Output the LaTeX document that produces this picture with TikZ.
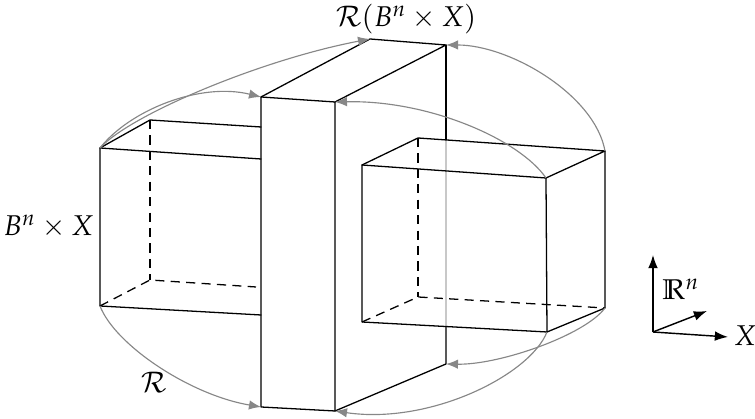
\documentclass[tikz,border=0pt]{standalone}
\usepackage{mathpazo}
\usetikzlibrary{arrows.meta}
\definecolor{mapgray}{RGB}{135,135,135}
\definecolor{lightline}{RGB}{200,200,200}
\begin{document}
\begin{tikzpicture}[x=0.35pt,y=-0.35pt,
  edge/.style={line width=0.45pt, line join=round, line cap=round},
  hid/.style={line width=0.45pt, dash pattern=on 3.2pt off 2.2pt},
  map/.style={draw=mapgray, line width=0.4pt, -{Latex[length=4.2pt,width=3.3pt]}},
  axis/.style={line width=0.5pt, -{Latex[length=4.6pt,width=3.4pt]}},
  lab/.style={anchor=base, inner sep=0pt}]
\useasboundingbox (0,0) rectangle (755,419);
% left box
\coordinate (L1) at (100,148);
\coordinate (L2) at (100,306);
\coordinate (L3) at (150,120);
\coordinate (L4) at (150,280);
\coordinate (L5) at (261,159);
\coordinate (L6) at (261,127);
\coordinate (L7) at (261,315);
\coordinate (L8) at (256,287);
% slab
\coordinate (S1) at (261,97);
\coordinate (S2) at (335,102);
\coordinate (S3) at (335,411);
\coordinate (S4) at (261,407);
\coordinate (S5) at (370,39);
\coordinate (S6) at (446,45);
\coordinate (S7) at (446,364);
\coordinate (S8) at (446,140);
\coordinate (S9) at (446,326.5);
% right box
\coordinate (R1) at (362,165);
\coordinate (R2) at (546,178);
\coordinate (R3) at (547,332);
\coordinate (R4) at (362,322);
\coordinate (R5) at (418,138);
\coordinate (R6) at (605,151);
\coordinate (R7) at (605,308);
\coordinate (R8) at (418,297);
% axes
\coordinate (O) at (653,332);
\coordinate (Up) at (653,255);
\coordinate (Ex) at (728,337);
\coordinate (Dg) at (707,311);

% left box
\draw[edge] (L5) -- (L1) -- (L2) -- (L7);
\draw[edge] (L1) -- (L3) -- (L6);
\draw[hid] (L3) -- (L4);
\draw[hid] (L2) -- (L4) -- (L8);

% slab
\draw[edge] (S1) -- (S2) -- (S3) -- (S4) -- cycle;
\draw[edge] (S1) -- (S5) -- (S6) -- (S2);
\draw[edge] (S3) -- (S7) -- (S9);
\draw[edge] (S6) -- (S8);
\draw[line width=0.45pt, lightline] (S8) -- (S9);

% right box
\draw[edge] (R1) -- (R2) -- (R3) -- (R4) -- cycle;
\draw[edge] (R1) -- (R5) -- (R6) -- (R2);
\draw[edge] (R6) -- (R7) -- (R3);
\draw[hid] (R5) -- (R8);
\draw[hid] (R4) -- (R8) -- (R7);

% maps
\draw[map] (L1) .. controls (130,110) and (200,82) .. (S1);
\draw[map] (L1) .. controls (130,115) and (260,60) .. (S5);
\draw[map] (R6) .. controls (595,95) and (510,45) .. (S6);
\draw[map] (R2) .. controls (520,140) and (430,100) .. (S2);
\draw[map] (L2) .. controls (115,345) and (190,395) .. (S4);
\draw[map] (R7) .. controls (585,335) and (500,365) .. (S7);
\draw[map] (R3) .. controls (530,375) and (430,425) .. (S3);

% axes
\draw[axis] (O) -- (Up);
\draw[axis] (O) -- (Ex);
\draw[axis] (O) -- (Dg);

% labels
\node[lab] (top) at (406,27) {$\mathcal{R}(B^n\times X)$};
\node[lab] (bx) at (48.5,236) {$B^n\times X$};
\node[lab] (r) at (154,393) {$\mathcal{R}$};
\node[lab] (rn) at (681,300) {$\mathbb{R}^n$};
\node[lab] (x) at (745,346) {$X$};
\end{tikzpicture}
\end{document}
